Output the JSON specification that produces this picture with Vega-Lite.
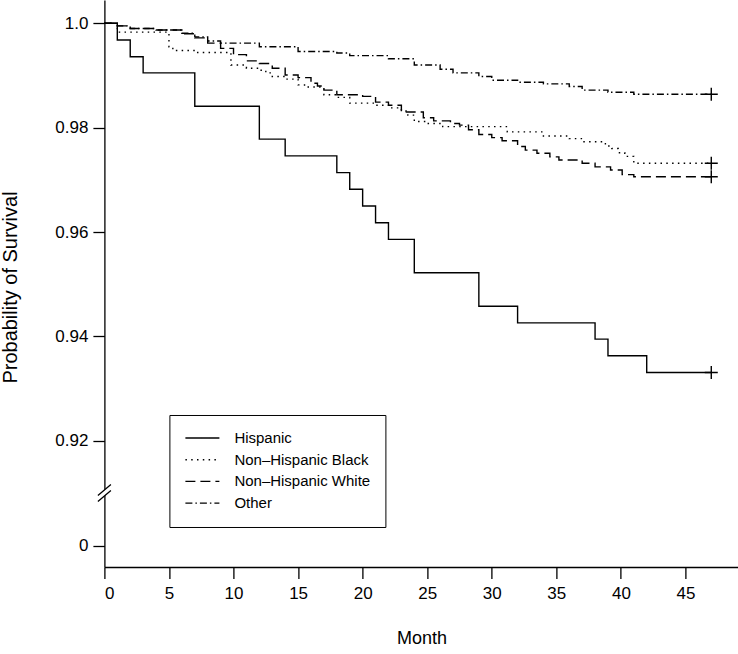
{
  "$schema": "https://vega.github.io/schema/vega-lite/v6.json",
  "autosize": {"type": "none"},
  "padding": {"left": 104.4, "top": 0, "right": 0, "bottom": 87},
  "width": 634,
  "height": 567,
  "background": "white",
  "config": {
    "view": {"stroke": null},
    "font": "Liberation Sans",
    "axis": {
      "grid": false,
      "domainColor": "black",
      "domainWidth": 1.3,
      "tickColor": "black",
      "tickWidth": 1.3,
      "tickSize": 11.5,
      "labelColor": "black",
      "labelFont": "Liberation Sans",
      "labelFontSize": 17,
      "titleFont": "Liberation Sans",
      "titleFontSize": 18,
      "titleFontWeight": "normal",
      "titleColor": "black"
    }
  },
  "datasets": {
    "km": [
      {"group": "Hispanic", "month": 0, "surv": 1.0},
      {"group": "Hispanic", "month": 1, "surv": 0.9968},
      {"group": "Hispanic", "month": 2, "surv": 0.9936},
      {"group": "Hispanic", "month": 3, "surv": 0.9905},
      {"group": "Hispanic", "month": 7, "surv": 0.9841},
      {"group": "Hispanic", "month": 12, "surv": 0.9778},
      {"group": "Hispanic", "month": 14, "surv": 0.9746},
      {"group": "Hispanic", "month": 18, "surv": 0.9714},
      {"group": "Hispanic", "month": 19, "surv": 0.9682},
      {"group": "Hispanic", "month": 20, "surv": 0.965},
      {"group": "Hispanic", "month": 21, "surv": 0.9618},
      {"group": "Hispanic", "month": 22, "surv": 0.9586},
      {"group": "Hispanic", "month": 24, "surv": 0.9522},
      {"group": "Hispanic", "month": 29, "surv": 0.9458},
      {"group": "Hispanic", "month": 32, "surv": 0.9426},
      {"group": "Hispanic", "month": 38, "surv": 0.9395},
      {"group": "Hispanic", "month": 39, "surv": 0.9363},
      {"group": "Hispanic", "month": 42, "surv": 0.9331},
      {"group": "Hispanic", "month": 47, "surv": 0.9331},

      {"group": "Non–Hispanic Black", "month": 0, "surv": 1.0},
      {"group": "Non–Hispanic Black", "month": 1, "surv": 0.9983},
      {"group": "Non–Hispanic Black", "month": 5, "surv": 0.9955},
      {"group": "Non–Hispanic Black", "month": 5.3, "surv": 0.9948},
      {"group": "Non–Hispanic Black", "month": 7, "surv": 0.9944},
      {"group": "Non–Hispanic Black", "month": 9.8, "surv": 0.992},
      {"group": "Non–Hispanic Black", "month": 11, "surv": 0.9914},
      {"group": "Non–Hispanic Black", "month": 12, "surv": 0.991},
      {"group": "Non–Hispanic Black", "month": 12.5, "surv": 0.9905},
      {"group": "Non–Hispanic Black", "month": 13, "surv": 0.9898},
      {"group": "Non–Hispanic Black", "month": 14, "surv": 0.9893},
      {"group": "Non–Hispanic Black", "month": 15, "surv": 0.9882},
      {"group": "Non–Hispanic Black", "month": 15.5, "surv": 0.9878},
      {"group": "Non–Hispanic Black", "month": 17, "surv": 0.9863},
      {"group": "Non–Hispanic Black", "month": 18, "surv": 0.9858},
      {"group": "Non–Hispanic Black", "month": 19, "surv": 0.9847},
      {"group": "Non–Hispanic Black", "month": 21, "surv": 0.9843},
      {"group": "Non–Hispanic Black", "month": 22, "surv": 0.9838},
      {"group": "Non–Hispanic Black", "month": 23, "surv": 0.9832},
      {"group": "Non–Hispanic Black", "month": 23.5, "surv": 0.9824},
      {"group": "Non–Hispanic Black", "month": 24, "surv": 0.9812},
      {"group": "Non–Hispanic Black", "month": 25, "surv": 0.9808},
      {"group": "Non–Hispanic Black", "month": 26.2, "surv": 0.9802},
      {"group": "Non–Hispanic Black", "month": 31.2, "surv": 0.9792},
      {"group": "Non–Hispanic Black", "month": 34, "surv": 0.9784},
      {"group": "Non–Hispanic Black", "month": 36, "surv": 0.9779},
      {"group": "Non–Hispanic Black", "month": 37, "surv": 0.9773},
      {"group": "Non–Hispanic Black", "month": 38.8, "surv": 0.9765},
      {"group": "Non–Hispanic Black", "month": 39.3, "surv": 0.976},
      {"group": "Non–Hispanic Black", "month": 39.8, "surv": 0.9752},
      {"group": "Non–Hispanic Black", "month": 40.3, "surv": 0.9745},
      {"group": "Non–Hispanic Black", "month": 41, "surv": 0.9732},
      {"group": "Non–Hispanic Black", "month": 47, "surv": 0.9732},

      {"group": "Non–Hispanic White", "month": 0, "surv": 1.0},
      {"group": "Non–Hispanic White", "month": 1, "surv": 0.9995},
      {"group": "Non–Hispanic White", "month": 2, "surv": 0.999},
      {"group": "Non–Hispanic White", "month": 4, "surv": 0.9987},
      {"group": "Non–Hispanic White", "month": 6, "surv": 0.998},
      {"group": "Non–Hispanic White", "month": 7, "surv": 0.9972},
      {"group": "Non–Hispanic White", "month": 8, "surv": 0.9962},
      {"group": "Non–Hispanic White", "month": 9, "surv": 0.9952},
      {"group": "Non–Hispanic White", "month": 10, "surv": 0.994},
      {"group": "Non–Hispanic White", "month": 11, "surv": 0.9928},
      {"group": "Non–Hispanic White", "month": 12, "surv": 0.9923},
      {"group": "Non–Hispanic White", "month": 13, "surv": 0.9914},
      {"group": "Non–Hispanic White", "month": 14, "surv": 0.9901},
      {"group": "Non–Hispanic White", "month": 15, "surv": 0.9896},
      {"group": "Non–Hispanic White", "month": 16, "surv": 0.9885},
      {"group": "Non–Hispanic White", "month": 16.5, "surv": 0.988},
      {"group": "Non–Hispanic White", "month": 17, "surv": 0.9872},
      {"group": "Non–Hispanic White", "month": 18, "surv": 0.9863},
      {"group": "Non–Hispanic White", "month": 20, "surv": 0.986},
      {"group": "Non–Hispanic White", "month": 21, "surv": 0.9849},
      {"group": "Non–Hispanic White", "month": 22, "surv": 0.9843},
      {"group": "Non–Hispanic White", "month": 23, "surv": 0.983},
      {"group": "Non–Hispanic White", "month": 24.7, "surv": 0.9819},
      {"group": "Non–Hispanic White", "month": 25.5, "surv": 0.9813},
      {"group": "Non–Hispanic White", "month": 26.8, "surv": 0.9808},
      {"group": "Non–Hispanic White", "month": 27.5, "surv": 0.9805},
      {"group": "Non–Hispanic White", "month": 28.2, "surv": 0.9796},
      {"group": "Non–Hispanic White", "month": 29, "surv": 0.9787},
      {"group": "Non–Hispanic White", "month": 30, "surv": 0.9781},
      {"group": "Non–Hispanic White", "month": 30.8, "surv": 0.9775},
      {"group": "Non–Hispanic White", "month": 32, "surv": 0.9764},
      {"group": "Non–Hispanic White", "month": 32.6, "surv": 0.9757},
      {"group": "Non–Hispanic White", "month": 33.5, "surv": 0.9751},
      {"group": "Non–Hispanic White", "month": 34.5, "surv": 0.9744},
      {"group": "Non–Hispanic White", "month": 35.2, "surv": 0.9738},
      {"group": "Non–Hispanic White", "month": 37, "surv": 0.9732},
      {"group": "Non–Hispanic White", "month": 38, "surv": 0.9725},
      {"group": "Non–Hispanic White", "month": 39.2, "surv": 0.9719},
      {"group": "Non–Hispanic White", "month": 40.1, "surv": 0.971},
      {"group": "Non–Hispanic White", "month": 41, "surv": 0.9706},
      {"group": "Non–Hispanic White", "month": 47, "surv": 0.9706},

      {"group": "Other", "month": 0, "surv": 1.0},
      {"group": "Other", "month": 1, "surv": 0.9995},
      {"group": "Other", "month": 2, "surv": 0.999},
      {"group": "Other", "month": 4, "surv": 0.9987},
      {"group": "Other", "month": 6, "surv": 0.9981},
      {"group": "Other", "month": 7, "surv": 0.9974},
      {"group": "Other", "month": 8, "surv": 0.9966},
      {"group": "Other", "month": 9, "surv": 0.9962},
      {"group": "Other", "month": 12, "surv": 0.9955},
      {"group": "Other", "month": 15, "surv": 0.9946},
      {"group": "Other", "month": 18, "surv": 0.9943},
      {"group": "Other", "month": 19, "surv": 0.9938},
      {"group": "Other", "month": 22, "surv": 0.9932},
      {"group": "Other", "month": 24, "surv": 0.992},
      {"group": "Other", "month": 26, "surv": 0.9912},
      {"group": "Other", "month": 27, "surv": 0.9905},
      {"group": "Other", "month": 29, "surv": 0.9898},
      {"group": "Other", "month": 30, "surv": 0.9891},
      {"group": "Other", "month": 32, "surv": 0.9887},
      {"group": "Other", "month": 34, "surv": 0.9884},
      {"group": "Other", "month": 36, "surv": 0.9879},
      {"group": "Other", "month": 37, "surv": 0.9872},
      {"group": "Other", "month": 39, "surv": 0.9868},
      {"group": "Other", "month": 41, "surv": 0.9864},
      {"group": "Other", "month": 47, "surv": 0.9864}
    ],
    "axisbreak": [{"month": 0, "surv": 0.46}]
  },
  "layer": [
    {
      "data": {"name": "km"},
      "mark": {"type": "line", "interpolate": "step-after", "color": "black", "strokeWidth": 1.4},
      "encoding": {
        "x": {
          "field": "month", "type": "quantitative",
          "scale": {"domain": [0, 49.1], "nice": false, "zero": false},
          "axis": {"values": [0, 5, 10, 15, 20, 25, 30, 35, 40, 45], "title": "Month", "labelPadding": 7, "titleBaseline": "middle", "titleX": 317, "titleY": 72, "labelAngle": 0}
        },
        "y": {
          "field": "surv", "type": "quantitative",
          "scale": {"domain": [-0.00408, 0.0101, 0.91002, 1.00446], "range": [567, 493, 493, 0], "nice": false, "zero": false},
          "axis": {
            "values": [0, 0.92, 0.94, 0.96, 0.98, 1.0],
            "labelExpr": "datum.value == 0 ? '0\u00a0\u00a0\u00a0' : (datum.value == 1 ? '1.0' : format(datum.value, '.2f'))",
            "labelPadding": 5,
            "title": "Probability of Survival",
            "titleFontSize": 20,
            "titleAngle": -90,
            "titleAlign": "center",
            "titleBaseline": "middle",
            "titleX": -94,
            "titleY": 287
          }
        },
        "strokeDash": {
          "field": "group", "type": "nominal",
          "scale": {
            "domain": ["Hispanic", "Non–Hispanic Black", "Non–Hispanic White", "Other"],
            "range": [[1, 0], [1.5, 4.3], [10, 5], [7, 3, 1.5, 3]]
          },
          "legend": {
            "title": null,
            "orient": "none",
            "legendX": 65,
            "legendY": 415,
            "strokeColor": "black",
            "fillColor": "white",
            "padding": 15,
            "symbolType": "stroke",
            "symbolSize": 1156,
            "symbolStrokeColor": "black",
            "symbolStrokeWidth": 1.4,
            "clipHeight": 16,
            "rowPadding": 5.7,
            "labelOffset": 14,
            "labelFont": "Liberation Sans",
            "labelFontSize": 15,
            "labelColor": "black",
            "labelLimit": 300
          }
        }
      }
    },
    {
      "data": {"name": "km"},
      "transform": [{"filter": "datum.month == 47"}],
      "mark": {"type": "point", "shape": "M-1,0H1M0,-1V1", "size": 169, "stroke": "black", "strokeWidth": 1.4, "filled": false, "opacity": 1},
      "encoding": {
        "x": {"field": "month", "type": "quantitative"},
        "y": {"field": "surv", "type": "quantitative"}
      }
    },
    {
      "data": {"name": "axisbreak"},
      "mark": {"type": "point", "shape": "M-0.765,0.294L0.765,-1L0.765,-0.294L-0.765,1Z", "size": 289, "fill": "white", "filled": true, "strokeWidth": 0, "opacity": 1},
      "encoding": {
        "x": {"field": "month", "type": "quantitative"},
        "y": {"field": "surv", "type": "quantitative"}
      }
    },
    {
      "data": {"name": "axisbreak"},
      "mark": {"type": "point", "shape": "M-0.765,0.294L0.765,-1M-0.765,1L0.765,-0.294", "size": 289, "stroke": "black", "strokeWidth": 1.3, "filled": false, "opacity": 1},
      "encoding": {
        "x": {"field": "month", "type": "quantitative"},
        "y": {"field": "surv", "type": "quantitative"}
      }
    }
  ]
}
